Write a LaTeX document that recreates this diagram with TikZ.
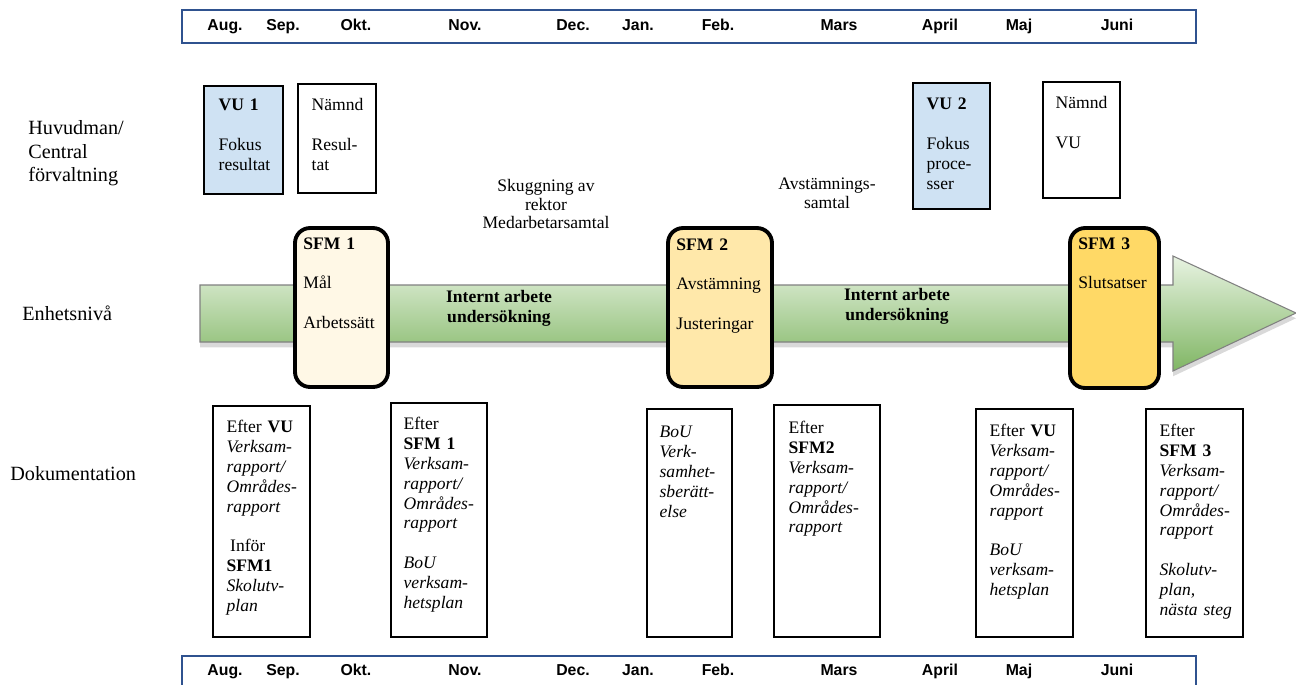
\documentclass[tikz,border=0pt]{standalone}
\usepackage{fontspec}
\setmainfont{Liberation Serif}
\newfontfamily\monthfont{Liberation Sans}
\usetikzlibrary{shadows}

\definecolor{barblue}{RGB}{47,82,143}
\definecolor{vublue}{RGB}{207,226,243}
\definecolor{sfmone}{RGB}{255,248,230}
\definecolor{sfmtwo}{RGB}{255,232,170}
\definecolor{sfmthree}{RGB}{255,217,102}
\definecolor{arrowtop}{RGB}{232,243,226}
\definecolor{arrowbot}{RGB}{128,182,100}

\begin{document}
\begin{tikzpicture}[x=0.02cm, y=-0.02cm,
  monthbar/.style={draw=barblue, line width=1.1pt, minimum width=20.28cm, minimum height=0.66cm, inner sep=0},
  month/.style={font=\monthfont\bfseries\fontsize{9}{10}\selectfont, inner sep=0, anchor=base},
  box/.style={draw, line width=0.8pt, inner sep=0},
  sfm/.style={draw, line width=2.2pt, rounded corners=0.3cm, inner sep=0, minimum height=3.18cm},
  boxtext/.style={font=\fontsize{10}{11.34}\selectfont, text width=2cm, align=left, inner sep=0, anchor=base west},
  level/.style={font=\fontsize{11.5}{13.3}\selectfont, align=left, inner sep=0, anchor=west},
  note/.style={font=\fontsize{10}{10.8}\selectfont, align=center, inner sep=0},
  work/.style={note, font=\bfseries\fontsize{10}{11.3}\selectfont}]
%\draw [help lines, step=50] (0,0) grid (1296,684);
\useasboundingbox (0,0) rectangle (1296,684);

% months
\node[monthbar] (topbar) at (689,26.5) {};
\node[monthbar] (botbar) at (689,672.5) {};
\foreach \m/\x in {Aug./225, Sep./283, Okt./356, Nov./465, Dec./573, Jan./638, Feb./718, Mars/839, April/940, Maj/1019, Juni/1117} {
  \node[month] (top\x) at (\x,30.5) {\m};
  \node[month] (bot\x) at (\x,675) {\m};
}

% levels
\node[level] (huvud) at (28,153.5) {Huvudman/\\Central\\förvaltning};
\node[level] (enhet) at (22,313) {Enhetsnivå};
\node[level] (dok) at (10,474) {Dokumentation};

% huvudman
\node[box, fill=vublue, minimum width=1.58cm, minimum height=2.16cm] (vu1) at (243.5,140) {};
\node[boxtext] (vu1t) at ([shift={(15,25)}]vu1.north west) {\textbf{VU 1}\\[\baselineskip]Fokus\\resultat};
\node[box, minimum width=1.56cm, minimum height=2.18cm] (namnd1) at (337,138.5) {};
\node[boxtext] (namnd1t) at ([shift={(14,27)}]namnd1.north west) {Nämnd\\[\baselineskip]Resul-\\tat};
\node[box, fill=vublue, minimum width=1.54cm, minimum height=2.52cm] (vu2) at (951.5,146) {};
\node[boxtext] (vu2t) at ([shift={(14,27)}]vu2.north west) {\textbf{VU 2}\\[\baselineskip]Fokus\\proce-\\sser};
\node[box, minimum width=1.54cm, minimum height=2.32cm] (namnd2) at (1081.5,140) {};
\node[boxtext] (namnd2t) at ([shift={(13,27)}]namnd2.north west) {Nämnd\\[\baselineskip]VU};

\node[note] (skugg) at (546,204) {Skuggning av\\rektor\\Medarbetarsamtal};
\node[note] (avst) at (827,193.5) {Avstämnings-\\samtal};

% enhet
\draw [draw=gray, line width=0.6pt, top color=arrowtop, bottom color=arrowbot,
  drop shadow={opacity=0.3, shadow xshift=0pt, shadow yshift=-3pt}]
  (200,285) -- (1173,285) -- (1173,256) -- (1296,313) -- (1173,371) -- (1173,342) -- (200,342) -- cycle;

\node[work] (intern1) at (499,308) {Internt arbete\\undersökning};
\node[work] (intern2) at (897,306) {Internt arbete\\undersökning};

\node[sfm, fill=sfmone, minimum width=1.86cm] (sfm1) at (341.5,307.5) {};
\node[boxtext] (sfm1t) at ([shift={(10,23)}]sfm1.north west) {\textbf{SFM 1}\\[\baselineskip]Mål\\[\baselineskip]Arbetssätt};
\node[sfm, fill=sfmtwo, minimum width=2.08cm] (sfm2) at (720,307.5) {};
\node[boxtext] (sfm2t) at ([shift={(10,24)}]sfm2.north west) {\textbf{SFM 2}\\[\baselineskip]Avstämning\\[\baselineskip]Justeringar};
\node[sfm, fill=sfmthree, minimum width=1.78cm, minimum height=3.2cm] (sfm3) at (1114.5,308) {};
\node[boxtext] (sfm3t) at ([shift={(10,23)}]sfm3.north west) {\textbf{SFM 3}\\[\baselineskip]Slutsatser};

% dokumentation
\node[box, minimum width=1.94cm, minimum height=4.62cm] (dok1) at (261.5,521.5) {};
\node[boxtext] (dok1t) at ([shift={(14,27)}]dok1.north west) {Efter \textbf{VU}\\\textit{Verksam-}\\\textit{rapport/}\\\textit{Områdes-}\\\textit{rapport}\\[\baselineskip]\hspace{2pt}Inför\\\textbf{SFM1}\\\textit{Skolutv-}\\\textit{plan}};
\node[box, minimum width=1.92cm, minimum height=4.68cm] (dok2) at (439,520) {};
\node[boxtext] (dok2t) at ([shift={(13,27)}]dok2.north west) {Efter\\\textbf{SFM 1}\\\textit{Verksam-}\\\textit{rapport/}\\\textit{Områdes-}\\\textit{rapport}\\[\baselineskip]\textit{BoU}\\\textit{verksam-}\\\textit{hetsplan}};
\node[box, minimum width=1.70cm, minimum height=4.56cm] (dok3) at (689.5,523) {};
\node[boxtext] (dok3t) at ([shift={(13,29)}]dok3.north west) {\textit{BoU}\\\textit{Verk-}\\\textit{samhet-}\\\textit{sberätt-}\\\textit{else}};
\node[box, minimum width=2.12cm, minimum height=4.64cm] (dok4) at (827,521) {};
\node[boxtext] (dok4t) at ([shift={(15,29)}]dok4.north west) {Efter\\\textbf{SFM2}\\\textit{Verksam-}\\\textit{rapport/}\\\textit{Områdes-}\\\textit{rapport}};
\node[box, minimum width=1.94cm, minimum height=4.56cm] (dok5) at (1024.5,523) {};
\node[boxtext] (dok5t) at ([shift={(14,28)}]dok5.north west) {Efter \textbf{VU}\\\textit{Verksam-}\\\textit{rapport/}\\\textit{Områdes-}\\\textit{rapport}\\[\baselineskip]\textit{BoU}\\\textit{verksam-}\\\textit{hetsplan}};
\node[box, minimum width=1.94cm, minimum height=4.56cm] (dok6) at (1194.5,523) {};
\node[boxtext] (dok6t) at ([shift={(14,28)}]dok6.north west) {Efter\\\textbf{SFM 3}\\\textit{Verksam-}\\\textit{rapport/}\\\textit{Områdes-}\\\textit{rapport}\\[\baselineskip]\textit{Skolutv-}\\\textit{plan,}\\\textit{nästa steg}};

\end{tikzpicture}
\end{document}
